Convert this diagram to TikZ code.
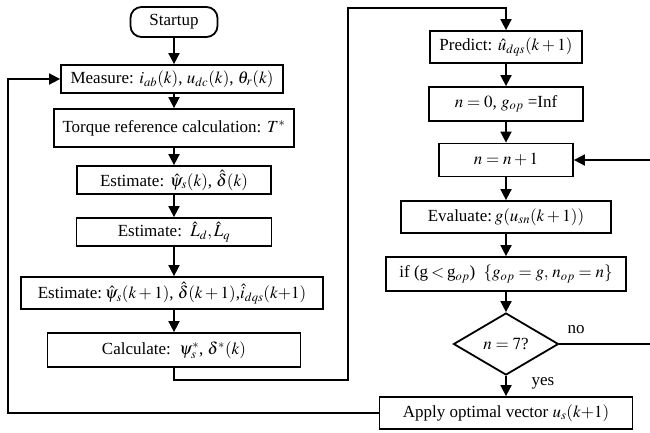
\documentclass[tikz,border=0pt]{standalone}
\usepackage{mathptmx}
\usepackage[no-math]{fontspec}
\setmainfont{Liberation Serif}
\usetikzlibrary{arrows.meta,shapes.geometric}
\tikzset{
  box/.style={draw, rectangle, inner sep=0pt, align=center},
  conn/.style={line width=1.8pt},
  arr/.style={conn, -{Triangle[length=11pt,width=11pt]}},
  lbl/.style={inner sep=0pt},
}
\begin{document}
\begin{tikzpicture}[x=1pt, y=-1pt, line width=1.8pt, font=\fontsize{17}{20}\selectfont]
\useasboundingbox (0,0) rectangle (650,432);
% left column
\node[box, rounded corners=11pt, minimum width=87pt, minimum height=30pt] (start) at (174,22) {Startup};
\node[box, minimum width=222pt, minimum height=28pt] (meas) at (172,79) {Measure: $i_{ab}(k)$, $u_{dc}(k)$, $\theta_r(k)$};
\node[box, minimum width=240pt, minimum height=38pt] (torq) at (174,128) {Torque reference calculation: $T^{*}$};
\node[box, minimum width=194pt, minimum height=28pt] (est1) at (174,180) {Estimate: $\hat{\psi}_s(k)$, $\hat{\delta}(k)$};
\node[box, minimum width=195pt, minimum height=28pt] (est2) at (174,232) {Estimate:\ \ $\hat{L}_d,\hat{L}_q$};
\node[box, minimum width=302pt, minimum height=32pt] (est3) at (172,293) {Estimate:\,$\hat{\psi}_s(k+1)$, $\hat{\delta}(k+1)$,$\hat{i}_{dqs}(k{+}1)$};
\node[box, minimum width=253pt, minimum height=34pt] (calc) at (174,350) {Calculate:\ \ $\psi_s^{*}$, $\delta^{*}(k)$};
% right column
\node[box, minimum width=152pt, minimum height=32pt] (pred) at (506,47) {Predict: $\hat{u}_{dqs}(k+1)$};
\node[box, minimum width=154pt, minimum height=34pt] (init) at (506,104) {$n=0$, $g_{op}$ =Inf};
\node[box, minimum width=134pt, minimum height=33pt] (incr) at (506,160) {$n=n+1$};
\node[box, minimum width=210pt, minimum height=32pt] (eval) at (506,217) {Evaluate:\,$g(u_{sn}(k+1))$};
\node[box, minimum width=240pt, minimum height=34pt] (cond) at (506,274) {if (g\,$<$\,g$_{op}$)\ \ $\{g_{op}=g,\,n_{op}=n\}$};
\node[draw, diamond, inner sep=0pt, minimum width=105pt, minimum height=62pt] (dec) at (506,344) {$n=7$?};
\node[box, minimum width=253pt, minimum height=32pt] (appl) at (506,413) {Apply optimal vector $u_s(k{+}1)$};
% labels
\node[lbl] (no) at (576,330) {no};
\node[lbl] (yes) at (543,383) {yes};
% helper coordinates
\coordinate (c1) at (348,380);
\coordinate (c2) at (348,8);
\coordinate (rr) at (653,0);
\coordinate (ll) at (8,0);
% connectors left
\draw[arr] (start.south) -- (meas.north -| start.south);
\draw[arr] (meas.south -| start.south) -- (torq.north);
\draw[arr] (torq.south) -- (est1.north);
\draw[arr] (est1.south) -- (est2.north);
\draw[arr] (est2.south) -- (est3.north -| est2.south);
\draw[arr] (est3.south -| est2.south) -- (calc.north);
\draw[arr] (calc.south) |- (c1) -- (c2) -| (pred.north);
% connectors right
\draw[arr] (pred.south) -- (init.north);
\draw[arr] (init.south) -- (incr.north);
\draw[arr] (incr.south) -- (eval.north);
\draw[arr] (eval.south) -- (cond.north);
\draw[arr] (cond.south) -- (dec.north);
\draw[arr] (dec.south) -- (appl.north);
\draw[arr] (dec.east) -- (dec.east -| rr) -- (incr.east -| rr) -- (incr.east);
\draw[arr] (appl.west) -- (appl.west -| ll) -- (meas.west -| ll) -- (meas.west);
\end{tikzpicture}
\end{document}
